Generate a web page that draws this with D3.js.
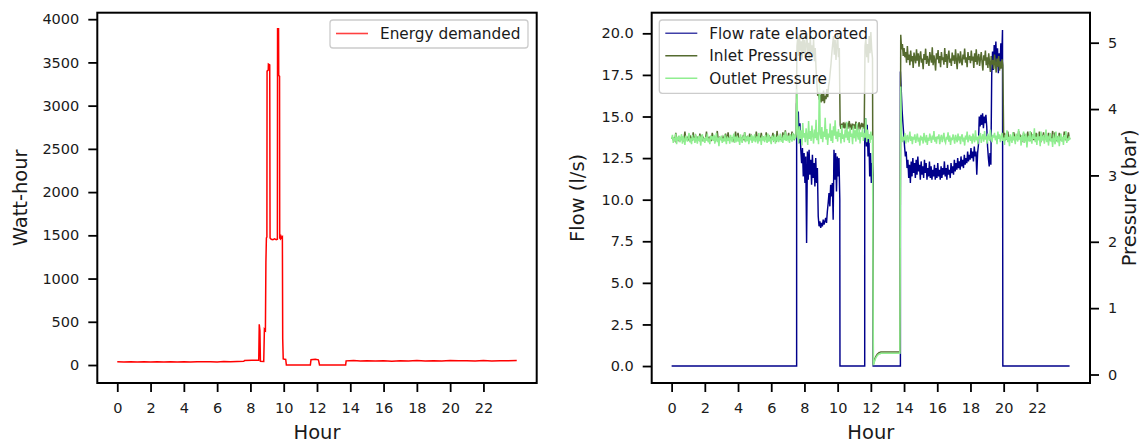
<!DOCTYPE html>
<html>
<head>
<meta charset="utf-8">
<script src="https://cdn.jsdelivr.net/npm/d3@7"></script>
<style>
  html, body { margin: 0; padding: 0; background: #fff; }
  svg { display: block; }
</style>
</head>
<body>
<svg id="fig" width="1140" height="443"></svg>
<script>
// ---------------- data ----------------
const hourTicks = [0, 2, 4, 6, 8, 10, 12, 14, 16, 18, 20, 22];
const energyTicks = [0, 500, 1000, 1500, 2000, 2500, 3000, 3500, 4000];
const flowTicks = [0, 2.5, 5, 7.5, 10, 12.5, 15, 17.5, 20];
const pressureTicks = [0, 1, 2, 3, 4, 5];

// Energy demanded [hour, Wh]
const energyDemanded = [
  [0, 38], [0.4, 35], [0.8, 39], [1.2, 36], [1.6, 38], [2, 35], [2.4, 38], [2.8, 36],
  [3.2, 39], [3.6, 35], [4, 38], [4.4, 36], [4.8, 39], [5.2, 37], [5.6, 39], [6, 36],
  [6.4, 40], [6.8, 38], [7.2, 41], [7.6, 43], [7.65, 52], [8.1, 54], [8.5, 56],
  [8.53, 470], [8.57, 400], [8.6, 42], [8.8, 40], [8.84, 415], [8.9, 400],
  [8.93, 1190], [8.96, 1470], [8.99, 1480], [9.0, 3400], [9.07, 3410], [9.08, 3480],
  [9.16, 3470], [9.18, 1470], [9.25, 1455], [9.35, 1450], [9.45, 1460], [9.55, 1450],
  [9.62, 1455], [9.63, 3890], [9.69, 3890], [9.7, 3350], [9.75, 3340], [9.76, 1470],
  [9.8, 1460], [9.84, 1490], [9.88, 1470], [9.92, 1480], [9.94, 300], [9.97, 70],
  [10.12, 65], [10.16, 0], [11.6, 0], [11.64, 62], [11.9, 66], [12.08, 60], [12.1, 48],
  [12.15, 0], [13.72, 0], [13.75, 48], [14.2, 52], [14.6, 46], [15, 50], [15.5, 46],
  [16, 49], [16.5, 45], [17, 50], [17.5, 47], [18, 51], [18.5, 46], [19, 50],
  [19.5, 47], [20, 52], [20.5, 48], [21, 50], [21.5, 46], [22, 51], [22.5, 47],
  [23, 50], [23.5, 48], [24, 52]
];

// Flow rate (l/s) while the pump runs: three windows sampled every 0.05 h
const flowStep = 0.05;
const flowWindowStarts = [7.53, 11.63, 13.78];
const flowWindowEnds = [10.14, 12.14, 19.95];
const flowLastHour = 23.97;
const flowWindow1 = [
  15.8, 14.2, 15.3, 13.4, 14.6, 13.0, 12.2, 13.1, 11.4, 12.8,
  11.0, 12.6, 7.4, 12.9, 11.2, 13.0, 11.5, 12.4, 10.9, 12.7,
  11.3, 12.2, 10.8, 12.5, 11.0, 11.9, 9.0, 8.4, 8.7, 8.3,
  8.6, 8.4, 8.8, 8.5, 8.7, 8.9, 8.6, 9.3, 9.8, 10.4,
  9.6, 10.9, 10.2, 11.0, 8.8, 13.0, 11.2, 12.8, 10.5, 12.6,
  11.4, 12.5, 10.0
];
const flowWindow2 = [13.8, 14.9, 13.2, 14.5, 12.6, 13.9, 11.4, 12.8, 11.0, 12.2, 11.5];
const flowWindow3 = [
  17.7, 16.6, 15.4, 14.6, 13.9, 13.2, 12.6, 12.9, 11.9, 12.4,
  11.3, 12.1, 11.0, 12.3, 11.4, 12.5, 11.6, 12.2, 11.3, 12.4,
  11.5, 12.6, 11.7, 12.1, 11.2, 12.3, 11.5, 12.0, 11.3, 12.4,
  11.6, 12.2, 11.2, 11.9, 11.4, 12.3, 11.3, 12.0, 11.2, 11.8,
  11.4, 12.1, 11.2, 11.9, 11.3, 12.2, 11.4, 11.8, 11.2, 12.0,
  11.3, 11.9, 11.5, 12.3, 11.4, 11.9, 11.2, 12.1, 11.5, 11.8,
  11.3, 12.2, 11.6, 12.0, 11.5, 12.4, 11.7, 12.2, 11.8, 12.5,
  11.9, 12.3, 11.8, 12.6, 12.0, 12.4, 11.9, 12.7, 12.1, 12.5,
  12.2, 12.9, 12.3, 12.7, 12.4, 13.1, 12.5, 12.9, 12.3, 13.2,
  12.6, 12.9, 11.5, 12.8, 13.3, 15.0, 14.4, 15.1, 14.5, 15.2,
  14.3, 15.0, 14.6, 15.1, 14.4, 13.2, 12.5, 12.0, 12.8, 12.1,
  17.5, 18.9, 17.8, 19.3, 18.2, 19.5, 18.0, 19.1, 17.6, 18.8,
  17.9, 19.4, 18.3, 20.2
];

// Pressures (bar), sampled every 0.05 h from 0 to 24 h (one row = half an hour)
const pressureStep = 0.05;
const inletPressure = [
  3.55, 3.57, 3.54, 3.56, 3.53, 3.64, 3.55, 3.54, 3.57, 3.53, // 0.0
  3.56, 3.54, 3.58, 3.55, 3.53, 3.56, 3.66, 3.54, 3.55, 3.57, // 0.5
  3.54, 3.56, 3.53, 3.58, 3.55, 3.54, 3.65, 3.56, 3.53, 3.59, // 1.0
  3.55, 3.57, 3.54, 3.53, 3.63, 3.55, 3.58, 3.54, 3.57, 3.55, // 1.5
  3.53, 3.56, 3.66, 3.54, 3.55, 3.57, 3.53, 3.56, 3.54, 3.64, // 2.0
  3.55, 3.54, 3.57, 3.53, 3.56, 3.67, 3.55, 3.54, 3.57, 3.55, // 2.5
  3.56, 3.53, 3.58, 3.55, 3.54, 3.63, 3.56, 3.53, 3.65, 3.55, // 3.0
  3.54, 3.57, 3.55, 3.56, 3.53, 3.58, 3.55, 3.66, 3.54, 3.56, // 3.5
  3.64, 3.55, 3.54, 3.57, 3.56, 3.53, 3.58, 3.55, 3.65, 3.54, // 4.0
  3.56, 3.58, 3.55, 3.53, 3.63, 3.55, 3.59, 3.54, 3.56, 3.55, // 4.5
  3.57, 3.54, 3.66, 3.58, 3.55, 3.53, 3.57, 3.56, 3.64, 3.55, // 5.0
  3.54, 3.57, 3.55, 3.56, 3.65, 3.54, 3.56, 3.55, 3.58, 3.53, // 5.5
  3.56, 3.55, 3.64, 3.54, 3.57, 3.55, 3.53, 3.67, 3.56, 3.54, // 6.0
  3.57, 3.55, 3.56, 3.54, 3.65, 3.56, 3.55, 3.68, 3.57, 3.55, // 6.5
  3.56, 3.64, 3.55, 3.57, 3.54, 3.66, 3.56, 3.60, 3.55, 3.57, // 7.0
  3.58, 4.95, 5.08, 4.80, 5.12, 4.88, 5.02, 4.74, 5.10, 4.85, // 7.5
  5.04, 4.78, 4.98, 5.14, 4.82, 5.00, 4.76, 5.08, 4.86, 4.96, // 8.0
  4.80, 5.05, 4.72, 4.92, 4.60, 4.38, 4.20, 4.26, 4.14, 4.22, // 8.5
  4.10, 4.24, 4.12, 4.28, 4.09, 4.20, 4.15, 4.30, 4.18, 4.34, // 9.0
  4.42, 4.55, 4.68, 4.84, 4.98, 5.10, 4.82, 5.04, 4.74, 4.96, // 9.5
  5.12, 4.78, 4.92, 3.76, 3.70, 3.78, 3.72, 3.80, 3.71, 3.77, // 10.0
  3.73, 3.79, 3.70, 3.76, 3.82, 3.71, 3.75, 3.69, 3.78, 3.72, // 10.5
  3.77, 3.70, 3.81, 3.73, 3.68, 3.76, 3.80, 3.71, 3.74, 3.79, // 11.0
  3.72, 3.78, 3.70, 4.95, 5.06, 4.78, 4.98, 4.70, 5.10, 4.84, // 11.5
  5.16, 4.90, 4.76, 0.15, 0.20, 0.24, 0.27, 0.29, 0.31, 0.32, // 12.0
  0.33, 0.33, 0.34, 0.34, 0.34, 0.34, 0.34, 0.34, 0.34, 0.34, // 12.5
  0.34, 0.34, 0.34, 0.34, 0.34, 0.34, 0.34, 0.34, 0.34, 0.34, // 13.0
  0.34, 0.34, 0.34, 0.34, 0.34, 0.34, 5.12, 4.90, 4.98, 4.80, // 13.5
  4.92, 4.78, 4.86, 4.70, 4.95, 4.74, 4.82, 4.66, 4.88, 4.72, // 14.0
  4.80, 4.62, 4.85, 4.76, 4.69, 4.90, 4.73, 4.84, 4.64, 4.79, // 14.5
  4.87, 4.70, 4.76, 4.60, 4.83, 4.74, 4.91, 4.68, 4.80, 4.72, // 15.0
  4.65, 4.86, 4.77, 4.70, 4.93, 4.66, 4.81, 4.73, 4.58, 4.84, // 15.5
  4.75, 4.89, 4.69, 4.80, 4.63, 4.86, 4.74, 4.78, 4.67, 4.92, // 16.0
  4.71, 4.83, 4.62, 4.79, 4.88, 4.70, 4.76, 4.65, 4.85, 4.73, // 16.5
  4.81, 4.68, 4.90, 4.74, 4.60, 4.84, 4.77, 4.69, 4.87, 4.72, // 17.0
  4.66, 4.82, 4.75, 4.91, 4.70, 4.78, 4.63, 4.86, 4.74, 4.80, // 17.5
  4.69, 4.88, 4.73, 4.79, 4.62, 4.84, 4.71, 4.90, 4.67, 4.77, // 18.0
  4.83, 4.65, 4.76, 4.86, 4.70, 4.58, 4.81, 4.73, 4.88, 4.66, // 18.5
  4.78, 4.62, 4.84, 4.70, 4.56, 4.80, 4.67, 4.74, 4.60, 4.82, // 19.0
  4.69, 4.55, 4.76, 4.64, 4.80, 4.58, 4.72, 4.61, 4.75, 4.66, // 19.5
  3.55, 3.64, 3.53, 3.57, 3.54, 3.66, 3.55, 3.53, 3.58, 3.56, // 20.0
  3.54, 3.57, 3.65, 3.60, 3.53, 3.56, 3.58, 3.54, 3.67, 3.55, // 20.5
  3.59, 3.54, 3.56, 3.53, 3.64, 3.55, 3.61, 3.54, 3.56, 3.66, // 21.0
  3.53, 3.58, 3.55, 3.65, 3.54, 3.59, 3.55, 3.57, 3.53, 3.64, // 21.5
  3.55, 3.57, 3.54, 3.66, 3.56, 3.53, 3.59, 3.55, 3.65, 3.54, // 22.0
  3.56, 3.60, 3.55, 3.53, 3.64, 3.55, 3.58, 3.54, 3.56, 3.67, // 22.5
  3.54, 3.56, 3.65, 3.55, 3.53, 3.57, 3.55, 3.64, 3.54, 3.56, // 23.0
  3.57, 3.55, 3.53, 3.66, 3.56, 3.54, 3.60, 3.55, 3.65, 3.56, // 23.5
  3.55
];
const outletPressure = [
  3.55, 3.61, 3.49, 3.57, 3.52, 3.63, 3.47, 3.58, 3.53, 3.60, // 0.0
  3.50, 3.56, 3.62, 3.48, 3.59, 3.54, 3.46, 3.60, 3.55, 3.51, // 0.5
  3.58, 3.64, 3.50, 3.56, 3.47, 3.61, 3.53, 3.57, 3.49, 3.62, // 1.0
  3.54, 3.48, 3.59, 3.52, 3.60, 3.45, 3.57, 3.62, 3.51, 3.56, // 1.5
  3.49, 3.58, 3.53, 3.63, 3.50, 3.56, 3.47, 3.60, 3.54, 3.59, // 2.0
  3.52, 3.61, 3.48, 3.55, 3.64, 3.50, 3.57, 3.44, 3.58, 3.53, // 2.5
  3.60, 3.49, 3.56, 3.51, 3.62, 3.54, 3.47, 3.59, 3.52, 3.57, // 3.0
  3.48, 3.61, 3.55, 3.50, 3.58, 3.63, 3.49, 3.56, 3.53, 3.60, // 3.5
  3.51, 3.57, 3.46, 3.62, 3.54, 3.49, 3.59, 3.55, 3.65, 3.50, // 4.0
  3.56, 3.52, 3.60, 3.47, 3.58, 3.53, 3.61, 3.49, 3.57, 3.54, // 4.5
  3.62, 3.50, 3.55, 3.59, 3.48, 3.64, 3.52, 3.57, 3.46, 3.60, // 5.0
  3.53, 3.58, 3.50, 3.61, 3.55, 3.49, 3.63, 3.51, 3.57, 3.54, // 5.5
  3.47, 3.60, 3.56, 3.52, 3.62, 3.48, 3.58, 3.54, 3.60, 3.50, // 6.0
  3.57, 3.63, 3.51, 3.55, 3.49, 3.61, 3.53, 3.66, 3.52, 3.58, // 6.5
  3.54, 3.60, 3.49, 3.62, 3.56, 3.51, 3.64, 3.53, 3.59, 3.55, // 7.0
  3.62, 4.30, 3.66, 3.48, 3.74, 3.55, 3.68, 3.45, 3.79, 3.57, // 7.5
  3.64, 3.50, 3.71, 3.58, 3.46, 3.82, 3.55, 3.67, 3.52, 3.75, // 8.0
  3.60, 3.48, 3.69, 3.56, 3.84, 3.53, 3.65, 3.47, 4.45, 3.62, // 8.5
  3.55, 3.73, 3.50, 3.66, 3.58, 3.87, 3.54, 3.70, 3.46, 3.63, // 9.0
  3.57, 3.78, 3.52, 3.68, 3.49, 3.74, 3.60, 3.83, 3.55, 3.66, // 9.5
  3.51, 3.70, 3.58, 3.64, 3.48, 3.76, 3.55, 3.62, 3.50, 3.69, // 10.0
  3.57, 3.81, 3.53, 3.66, 3.49, 3.72, 3.58, 3.63, 3.47, 3.75, // 10.5
  3.56, 3.68, 3.51, 3.79, 3.60, 3.54, 3.70, 3.48, 3.65, 3.58, // 11.0
  3.73, 3.52, 3.64, 3.57, 3.86, 3.50, 3.69, 3.55, 3.62, 3.49, // 11.5
  3.66, 3.54, 3.60, 0.14, 0.18, 0.22, 0.25, 0.27, 0.29, 0.30, // 12.0
  0.31, 0.31, 0.32, 0.32, 0.32, 0.32, 0.32, 0.32, 0.32, 0.32, // 12.5
  0.32, 0.32, 0.32, 0.32, 0.32, 0.32, 0.32, 0.32, 0.32, 0.32, // 13.0
  0.32, 0.32, 0.32, 0.32, 0.32, 0.32, 4.34, 3.62, 3.50, 3.58, // 13.5
  3.53, 3.64, 3.48, 3.57, 3.61, 3.50, 3.56, 3.66, 3.52, 3.59, // 14.0
  3.47, 3.58, 3.54, 3.62, 3.49, 3.56, 3.63, 3.51, 3.57, 3.45, // 14.5
  3.60, 3.53, 3.58, 3.48, 3.64, 3.55, 3.50, 3.61, 3.46, 3.57, // 15.0
  3.52, 3.63, 3.56, 3.49, 3.60, 3.54, 3.67, 3.51, 3.58, 3.48, // 15.5
  3.59, 3.55, 3.62, 3.47, 3.56, 3.61, 3.50, 3.57, 3.64, 3.52, // 16.0
  3.49, 3.58, 3.54, 3.65, 3.51, 3.60, 3.46, 3.57, 3.53, 3.62, // 16.5
  3.55, 3.48, 3.61, 3.56, 3.50, 3.63, 3.53, 3.59, 3.47, 3.58, // 17.0
  3.62, 3.51, 3.57, 3.45, 3.60, 3.54, 3.66, 3.50, 3.56, 3.61, // 17.5
  3.52, 3.59, 3.48, 3.63, 3.55, 3.50, 3.68, 3.53, 3.58, 3.47, // 18.0
  3.60, 3.55, 3.64, 3.49, 3.57, 3.62, 3.51, 3.67, 3.54, 3.59, // 18.5
  3.48, 3.63, 3.56, 3.52, 3.69, 3.55, 3.50, 3.61, 3.57, 3.64, // 19.0
  3.53, 3.60, 3.47, 3.66, 3.55, 3.62, 3.50, 3.58, 3.64, 3.52, // 19.5
  3.57, 3.46, 3.61, 3.54, 3.68, 3.50, 3.58, 3.44, 3.62, 3.55, // 20.0
  3.49, 3.65, 3.53, 3.59, 3.47, 3.63, 3.56, 3.51, 3.70, 3.54, // 20.5
  3.58, 3.45, 3.61, 3.52, 3.66, 3.49, 3.57, 3.63, 3.42, 3.56, // 21.0
  3.60, 3.51, 3.67, 3.54, 3.48, 3.62, 3.55, 3.71, 3.50, 3.58, // 21.5
  3.46, 3.63, 3.53, 3.59, 3.44, 3.66, 3.52, 3.57, 3.61, 3.48, // 22.0
  3.55, 3.69, 3.50, 3.60, 3.45, 3.58, 3.64, 3.51, 3.56, 3.43, // 22.5
  3.62, 3.53, 3.47, 3.66, 3.55, 3.50, 3.60, 3.44, 3.57, 3.63, // 23.0
  3.51, 3.58, 3.46, 3.61, 3.54, 3.67, 3.49, 3.56, 3.52, 3.59, // 23.5
  3.54
];

// ---------------- drawing ----------------
const FONT = '"DejaVu Sans", "Liberation Sans", sans-serif';
const TICK_FONT = 14.5;
const LABEL_FONT = 19.5;
const svg = d3.select('#fig');

// Flow series: zero outside the pumping windows
const flowWindows = [flowWindow1, flowWindow2, flowWindow3];
const flowSeries = [[0, 0]];
flowWindows.forEach((vals, w) => {
  const s = flowWindowStarts[w];
  flowSeries.push([s, 0]);
  vals.forEach((v, i) => flowSeries.push([s + i * flowStep, v]));
  flowSeries.push([flowWindowEnds[w], 0]);
});
flowSeries.push([flowLastHour, 0]);

const inletSeries = inletPressure.map((v, i) => [i * pressureStep, v]);
const outletSeries = outletPressure.map((v, i) => [i * pressureStep, v]);

function styleAxis(g) {
  g.select('.domain').remove();
  g.attr('font-family', FONT).attr('font-size', TICK_FONT);
  g.selectAll('.tick line').attr('stroke', '#000').attr('stroke-width', 1.8);
  g.selectAll('.tick text').attr('fill', '#1a1a1a');
}

function drawLegend(x, y, w, h, items, rowY) {
  const g = svg.append('g');
  g.append('rect')
    .attr('x', x).attr('y', y).attr('width', w).attr('height', h)
    .attr('rx', 3).attr('fill', '#fff').attr('fill-opacity', 0.8)
    .attr('stroke', '#cccccc').attr('stroke-width', 1.3);
  items.forEach((it, i) => {
    const cy = rowY[i];
    g.append('line')
      .attr('x1', x + 6).attr('x2', x + 38).attr('y1', cy).attr('y2', cy)
      .attr('stroke', it.color).attr('stroke-width', 1.6);
    g.append('text')
      .attr('x', x + 50).attr('y', cy + 5.6)
      .attr('font-family', FONT).attr('font-size', 15.3)
      .attr('fill', '#1a1a1a')
      .text(it.label);
  });
}

function spines(box) {
  svg.append('rect')
    .attr('x', box.l).attr('y', box.t)
    .attr('width', box.r - box.l).attr('height', box.b - box.t)
    .attr('fill', 'none').attr('stroke', '#000').attr('stroke-width', 2);
}

function clipFor(id, box) {
  svg.append('clipPath').attr('id', id)
    .append('rect').attr('x', box.l).attr('y', box.t)
    .attr('width', box.r - box.l).attr('height', box.b - box.t);
}

function axisLabel(x, y, rotate, text) {
  svg.append('text')
    .attr('transform', `translate(${x},${y})` + (rotate ? ' rotate(-90)' : ''))
    .attr('text-anchor', 'middle').attr('font-family', FONT)
    .attr('font-size', LABEL_FONT).attr('fill', '#1a1a1a')
    .text(text);
}

// ---- left panel: energy demanded ----
const eBox = { l: 97.3, r: 536.7, t: 12.7, b: 383 };
const xE = d3.scaleLinear().domain([-1.2, 25.2]).range([eBox.l, eBox.r]);
const yE = d3.scaleLinear().domain([-208, 4075]).range([eBox.b, eBox.t]);
clipFor('clipE', eBox);

svg.append('path')
  .datum(energyDemanded)
  .attr('clip-path', 'url(#clipE)')
  .attr('fill', 'none').attr('stroke', '#ff0000').attr('stroke-width', 1.5)
  .attr('d', d3.line().x(d => xE(d[0])).y(d => yE(d[1])));

svg.append('g').attr('transform', `translate(0,${eBox.b})`)
  .call(d3.axisBottom(xE).tickValues(hourTicks).tickSize(9).tickPadding(11).tickSizeOuter(0))
  .call(styleAxis);
svg.append('g').attr('transform', `translate(${eBox.l},0)`)
  .call(d3.axisLeft(yE).tickValues(energyTicks).tickFormat(d3.format('d'))
    .tickSize(9).tickPadding(9).tickSizeOuter(0))
  .call(styleAxis);
spines(eBox);

axisLabel((eBox.l + eBox.r) / 2, 438.5, false, 'Hour');
axisLabel(27, (eBox.t + eBox.b) / 2, true, 'Watt-hour');

drawLegend(330, 20, 198, 28, [{ label: 'Energy demanded', color: '#ff4040' }], [33.5]);

// ---- right panel: flow (left axis) and pressures (right axis) ----
const fBox = { l: 651.7, r: 1090, t: 12.7, b: 383 };
const xF = d3.scaleLinear().domain([-1.2, 25.2]).range([fBox.l, fBox.r]);
const yF = d3.scaleLinear().domain([-1.02, 21.24]).range([fBox.b, fBox.t]);
const yP = d3.scaleLinear().domain([-0.128, 5.452]).range([fBox.b, fBox.t]);
clipFor('clipF', fBox);

const plotF = svg.append('g').attr('clip-path', 'url(#clipF)');
plotF.append('path')
  .datum(flowSeries)
  .attr('fill', 'none').attr('stroke', '#00008b').attr('stroke-width', 1.45)
  .attr('d', d3.line().x(d => xF(d[0])).y(d => yF(d[1])));
plotF.append('path')
  .datum(inletSeries)
  .attr('fill', 'none').attr('stroke', '#556b2f').attr('stroke-width', 1.5)
  .attr('d', d3.line().x(d => xF(d[0])).y(d => yP(d[1])));
plotF.append('path')
  .datum(outletSeries)
  .attr('fill', 'none').attr('stroke', '#90ee90').attr('stroke-width', 1.5)
  .attr('d', d3.line().x(d => xF(d[0])).y(d => yP(d[1])));

svg.append('g').attr('transform', `translate(0,${fBox.b})`)
  .call(d3.axisBottom(xF).tickValues(hourTicks).tickSize(9).tickPadding(11).tickSizeOuter(0))
  .call(styleAxis);
svg.append('g').attr('transform', `translate(${fBox.l},0)`)
  .call(d3.axisLeft(yF).tickValues(flowTicks).tickFormat(d3.format('.1f'))
    .tickSize(9).tickPadding(9).tickSizeOuter(0))
  .call(styleAxis);
svg.append('g').attr('transform', `translate(${fBox.r},0)`)
  .call(d3.axisRight(yP).tickValues(pressureTicks).tickFormat(d3.format('d'))
    .tickSize(9).tickPadding(9).tickSizeOuter(0))
  .call(styleAxis);
spines(fBox);

axisLabel((fBox.l + fBox.r) / 2, 438.5, false, 'Hour');
axisLabel(584, (fBox.t + fBox.b) / 2, true, 'Flow (l/s)');
axisLabel(1135.5, (fBox.t + fBox.b) / 2, true, 'Pressure (bar)');

drawLegend(659.3, 20, 218, 73.3, [
  { label: 'Flow rate elaborated', color: '#4040a8' },
  { label: 'Inlet Pressure', color: '#556b2f' },
  { label: 'Outlet Pressure', color: '#90ee90' }
], [33.3, 55.7, 78.3]);
</script>
</body>
</html>
